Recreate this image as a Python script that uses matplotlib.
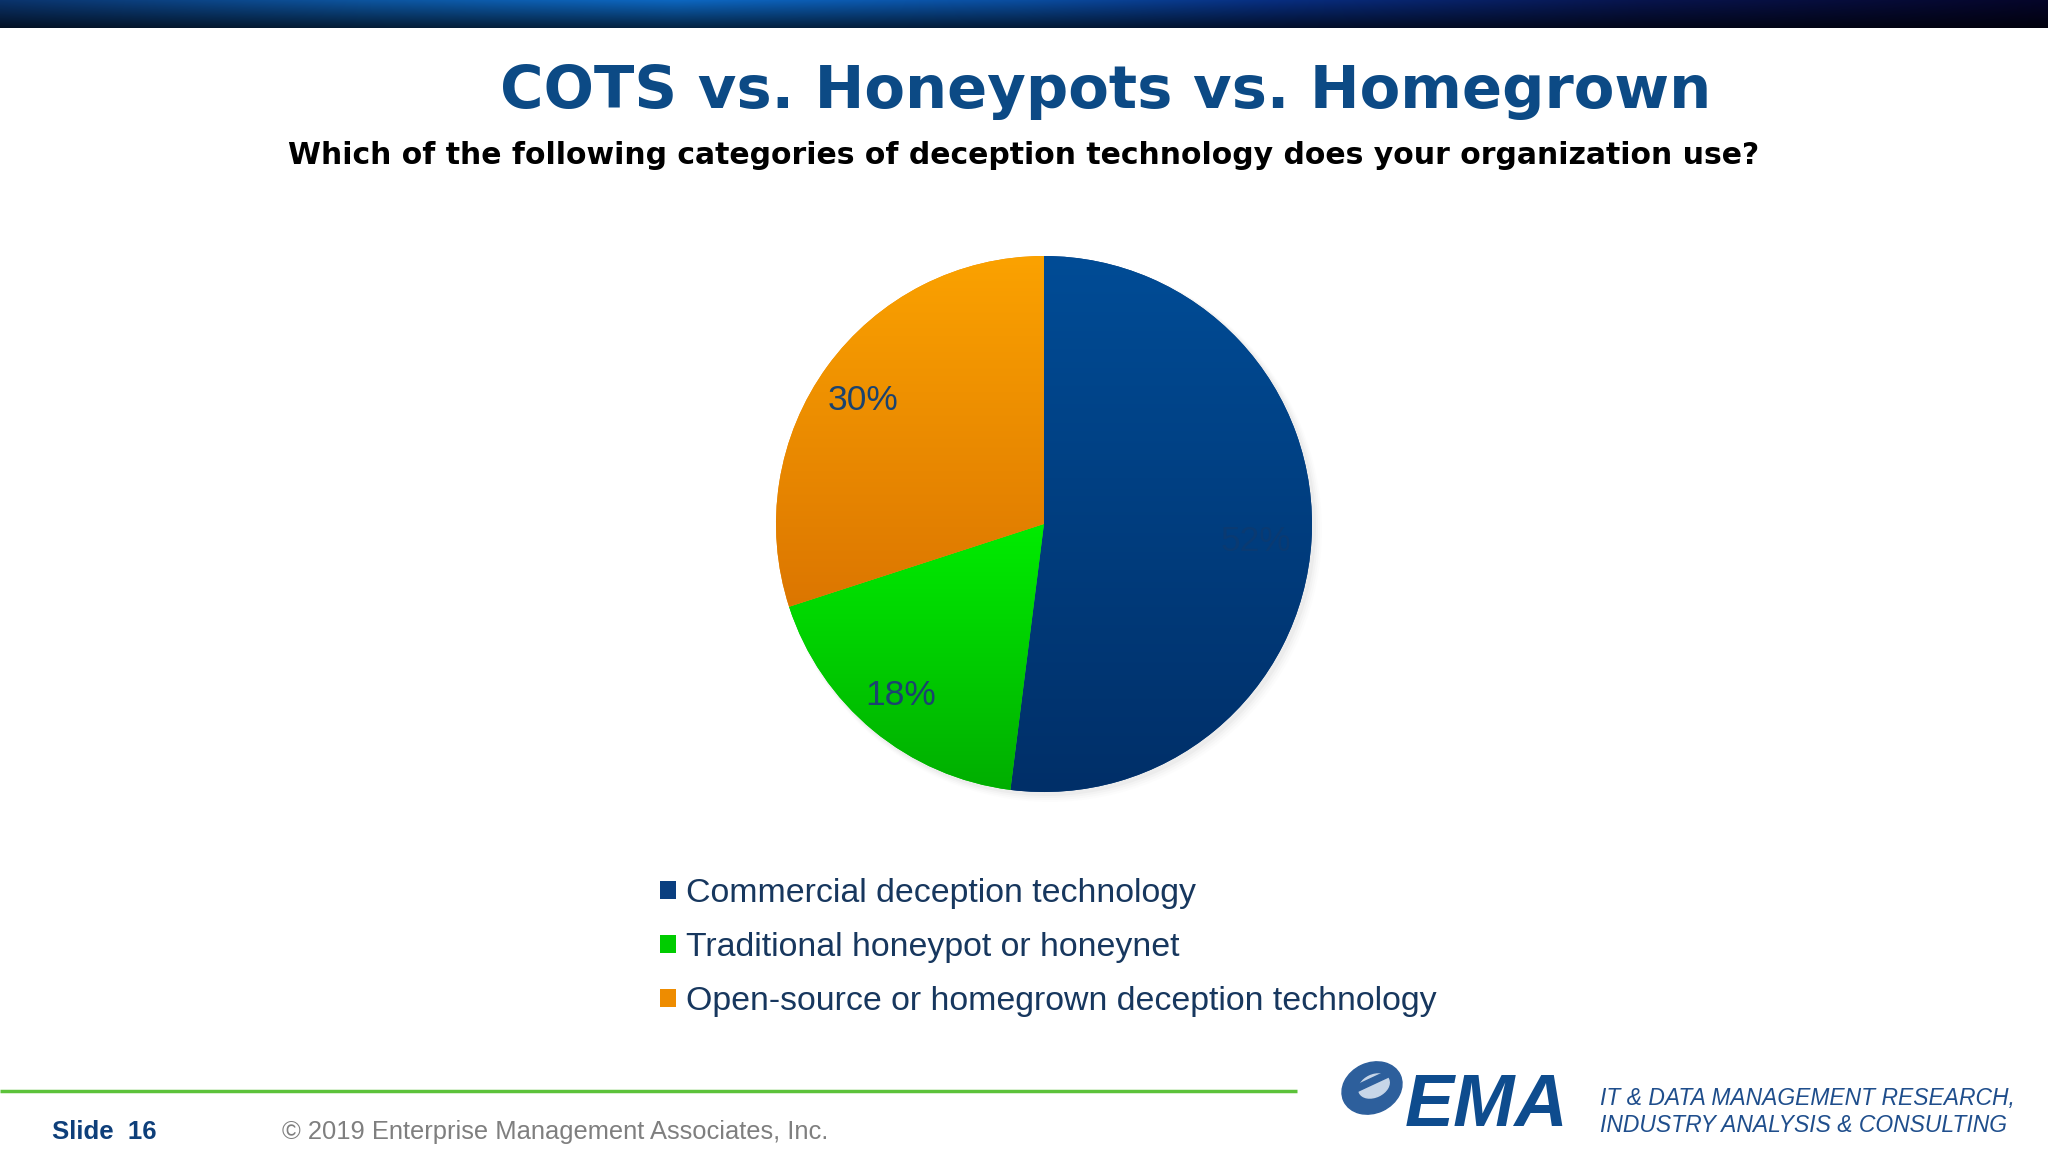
import numpy as np
import matplotlib
matplotlib.use("Agg")
import matplotlib.pyplot as plt
from matplotlib.patches import Patch, Ellipse, Circle, Rectangle
from matplotlib.colors import to_rgb

# chart data
categories = ["Commercial deception technology",
              "Traditional honeypot or honeynet",
              "Open-source or homegrown deception technology"]
shares = [52, 18, 30]
top_colors = ["#004C96", "#00EC00", "#FBA200"]
bottom_colors = ["#002F68", "#00AE00", "#DC7600"]
legend_colors = ["#0A3F80", "#00CC00", "#EE8C00"]

title = "COTS vs. Honeypots vs. Homegrown"
subtitle = "Which of the following categories of deception technology does your organization use?"

W, H = 2048, 1152


def Y(py):
    # pixel row (from top) -> data y
    return H - py


def vgrad(c_top, c_bot, n=256):
    a, b = np.array(to_rgb(c_top)), np.array(to_rgb(c_bot))
    t = np.linspace(0, 1, n)[:, None]
    return (a * (1 - t) + b * t)[:, None, :]


fig = plt.figure(figsize=(W / 100, H / 100), dpi=100)
fig.patch.set_facecolor("white")
ax = fig.add_axes([0, 0, 1, 1])

# top banner gradient
xs = np.linspace(0, 1, 600)
stops_x = [0.0, 0.18, 0.33, 0.5, 0.62, 0.8, 1.0]
stops_r = [0.04, 0.05, 0.05, 0.04, 0.03, 0.03, 0.02]
stops_g = [0.20, 0.33, 0.40, 0.30, 0.18, 0.08, 0.02]
stops_b = [0.42, 0.62, 0.75, 0.62, 0.50, 0.30, 0.16]
row = np.stack([np.interp(xs, stops_x, stops_r),
                np.interp(xs, stops_x, stops_g),
                np.interp(xs, stops_x, stops_b)], axis=-1)
fade = np.linspace(1.0, 0.35, 30)[:, None, None]
banner = row[None, :, :] * fade
ax.imshow(banner, extent=(0, W, Y(28), Y(0)), aspect="auto", zorder=2, interpolation="bilinear")

# titles
ax.text(1106, Y(91), title, ha="center", va="center", fontsize=42.7, fontweight="bold",
        color="#0C4A85", family="DejaVu Sans")
ax.text(1024, Y(155), subtitle, ha="center", va="center", fontsize=21.5, fontweight="bold",
        color="black", family="DejaVu Sans")

# pie
cx, cy, R = 1044, Y(524), 268
for k, a in enumerate([0.05, 0.04, 0.03, 0.02]):
    ax.add_patch(Circle((cx + 3 + k, cy - 3 - k), R + 1 + k, color="#808080", alpha=a, lw=0, zorder=0.5))

wedges, texts, autotexts = ax.pie(
    shares, startangle=90, counterclock=False, center=(cx, cy), radius=R,
    colors=legend_colors, autopct="%1.0f%%", pctdistance=0.81,
    wedgeprops=dict(linewidth=0), frame=True,
    textprops=dict(fontsize=25.5, color="#1B436F", family="Liberation Sans"))

for w, ct, cb in zip(wedges, top_colors, bottom_colors):
    w.set_zorder(1)
    ext = w.get_path().get_extents()
    im = ax.imshow(vgrad(ct, cb), extent=(ext.x0, ext.x1, ext.y0, ext.y1),
                   aspect="auto", zorder=1.5, interpolation="bilinear")
    im.set_clip_path(w)
for t in autotexts:
    t.set_zorder(3)
    x, y = t.get_position()
    t.set_position((x - 5, y - 4))
autotexts[0].set_color("#0A3A72")

# legend
handles = [Patch(facecolor=c, edgecolor="none") for c in legend_colors]
ax.legend(handles, categories, loc="upper left", bbox_to_anchor=(660, Y(878)),
          bbox_transform=ax.transData, frameon=False, prop=dict(family="Liberation Sans", size=24.4),
          labelcolor="#17375E", handlelength=0.47, handleheight=0.47, handletextpad=0.3,
          labelspacing=0.68, borderpad=0, borderaxespad=0)

# footer
ax.plot([0, 1297], [Y(1091), Y(1091)], color="#5CC23A", lw=2.5, solid_capstyle="butt")
ax.text(52, Y(1132), "Slide  16", ha="left", va="center", fontsize=18.5, fontweight="bold",
        color="#0E3F7A", family="Liberation Sans")
ax.text(282, Y(1132), "\u00a9 2019 Enterprise Management Associates, Inc.", ha="left", va="center",
        fontsize=18.4, color="#7F7F7F", family="Liberation Sans")

# EMA logo
ax.add_patch(Ellipse((1372, Y(1088)), 62, 50, angle=25, color="#2D5F9C", zorder=2))
ax.add_patch(Ellipse((1374, Y(1086)), 32, 22, angle=25, color="#C7D6E8", zorder=2.1))
ax.add_patch(Rectangle((1352, Y(1094)), 40, 6, angle=25, color="#2D5F9C", zorder=2.2))
ax.text(1405, Y(1106), "EMA", ha="left", va="center", fontsize=53, fontweight="bold",
        fontstyle="italic", color="#0E4C8E", family="Liberation Sans")
ax.text(1600, Y(1099), "IT & DATA MANAGEMENT RESEARCH,", ha="left", va="center", fontsize=16.5,
        fontstyle="italic", color="#1F4E8C", family="Liberation Sans")
ax.text(1600, Y(1126), "INDUSTRY ANALYSIS & CONSULTING", ha="left", va="center", fontsize=16.5,
        fontstyle="italic", color="#1F4E8C", family="Liberation Sans")

ax.set_xlim(0, W)
ax.set_ylim(0, H)
ax.set_aspect("auto")
ax.axis("off")

fig.savefig("out.png", dpi=100)
